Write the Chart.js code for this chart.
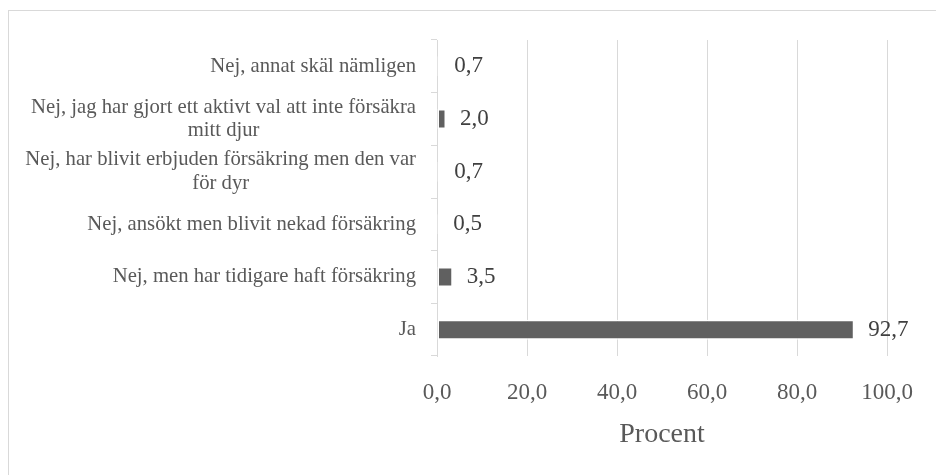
<!DOCTYPE html>
<html>
<head>
<meta charset="utf-8">
<script src="https://cdn.jsdelivr.net/npm/chart.js@4"></script>
<style>
  body { margin: 0; background: #fff; }
</style>
</head>
<body>
<canvas id="myChart" width="936" height="475"></canvas>
<script>
// categories, top to bottom
const labels = [
  ['Nej, annat skäl nämligen'],
  ['Nej, jag har gjort ett aktivt val att inte försäkra', 'mitt djur'],
  ['Nej, har blivit erbjuden försäkring men den var', 'för dyr'],
  ['Nej, ansökt men blivit nekad försäkring'],
  ['Nej, men har tidigare haft försäkring'],
  ['Ja']
];
const values = [0.7, 2.0, 0.7, 0.5, 3.5, 92.7];
const xTicks = [0, 20, 40, 60, 80, 100];

const serif = "'Palatino Linotype', 'Book Antiqua', Palatino, 'Liberation Serif', serif";
const fmt = (v) => v.toFixed(1).replace('.', ',');

// frame, category labels and value labels
const extras = {
  id: 'extras',
  beforeDraw(chart) {
    const ctx = chart.ctx;
    ctx.save();
    ctx.strokeStyle = '#d9d9d9';
    ctx.lineWidth = 1;
    ctx.strokeRect(8.5, 10.5, 1000, 1000);
    ctx.restore();
  },
  afterDraw(chart) {
    const ctx = chart.ctx;
    const y = chart.scales.y;
    const meta = chart.getDatasetMeta(0);
    ctx.save();
    ctx.font = '20.7px ' + serif;
    ctx.fillStyle = '#595959';
    ctx.textBaseline = 'middle';
    ctx.textAlign = 'center';
    const right = chart.chartArea.left - 21;
    labels.forEach((lines, i) => {
      const cy = y.getPixelForValue(i);
      const w = Math.max(...lines.map((l) => ctx.measureText(l).width));
      const lh = 23.5;
      lines.forEach((l, j) => {
        ctx.fillText(l, right - w / 2, cy + (j - (lines.length - 1) / 2) * lh);
      });
    });
    ctx.font = '23px ' + serif;
    ctx.fillStyle = '#404040';
    ctx.textAlign = 'left';
    meta.data.forEach((bar, i) => {
      ctx.fillText(fmt(values[i]), bar.x + 14, bar.y);
    });
    ctx.restore();
  }
};

const ctx = document.getElementById('myChart').getContext('2d');
const myChart = new Chart(ctx, {
  type: 'bar',
  data: {
    labels: labels,
    datasets: [{
      data: values,
      backgroundColor: '#606060',
      borderColor: '#ffffff',
      borderWidth: 1.5,
      borderSkipped: false,
      categoryPercentage: 1,
      barPercentage: 0.38
    }]
  },
  options: {
    indexAxis: 'y',
    responsive: false,
    animation: false,
    layout: { padding: { top: 40, right: 48, left: 0, bottom: 0 } },
    plugins: { legend: { display: false }, tooltip: { enabled: false } },
    scales: {
      x: {
        min: 0,
        max: 100,
        afterBuildTicks: (scale) => { scale.ticks = xTicks.map((v) => ({ value: v })); },
        afterFit: (scale) => { scale.height = 119; },
        grid: { color: '#d9d9d9', drawTicks: false },
        border: { display: false },
        ticks: {
          padding: 23,
          color: '#595959',
          font: { family: serif, size: 23 },
          callback: (v) => fmt(v)
        },
        title: {
          display: true,
          text: 'Procent',
          color: '#595959',
          font: { family: serif, size: 28 },
          padding: { top: 0, bottom: 24 }
        }
      },
      y: {
        afterFit: (scale) => { scale.width = 437; },
        grid: { drawOnChartArea: false, drawTicks: true, tickLength: 6, color: '#d9d9d9', offset: true },
        border: { display: true, color: '#d9d9d9' },
        ticks: { display: false }
      }
    }
  },
  plugins: [extras]
});
</script>
</body>
</html>
